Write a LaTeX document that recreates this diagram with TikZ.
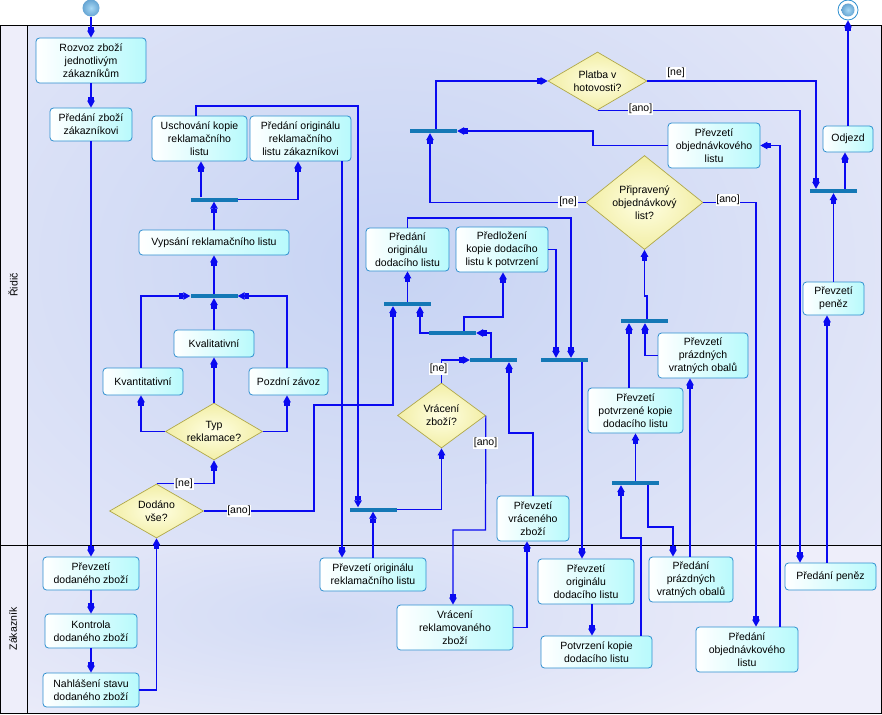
\documentclass[tikz,border=0pt]{standalone}
\usepackage{fontspec}
\setmainfont{Liberation Sans}
\usetikzlibrary{arrows.meta,shapes.geometric}
\definecolor{lav}{HTML}{EEEEFA}
\definecolor{glowA}{HTML}{C6D3F3}
\definecolor{glowB}{HTML}{D2DBF5}
\definecolor{boxb}{HTML}{2E8FCF}
\definecolor{boxc}{HTML}{B8FAFC}
\definecolor{diab}{HTML}{B0A848}
\definecolor{diai}{HTML}{FFFFE4}
\definecolor{diao}{HTML}{F2EEA6}
\definecolor{barc}{HTML}{1478B6}
\definecolor{lc}{HTML}{0A0AF0}
\definecolor{balli}{HTML}{A8D8F4}
\definecolor{ballo}{HTML}{2472B2}
\pgfdeclareradialshading{ballsh}{\pgfpoint{0bp}{0bp}}{color(0bp)=(balli); color(50bp)=(ballo)}
\newcommand\dfont{\fontsize{10.5pt}{13pt}\selectfont}
\begin{document}
\begin{tikzpicture}[x=1pt,y=-1pt,
  box/.style 2 args={draw=boxb, line width=0.8pt, rounded corners=3.5pt, left color=white, right color=boxc, align=center, inner sep=0pt, font=\dfont, minimum width=#1, minimum height=#2},
  dia/.style 2 args={diamond, draw=diab, line width=0.7pt, inner color=diai, outer color=diao, minimum width=#1, minimum height=#2, inner sep=0pt},
  dtext/.style={font=\dfont, align=center, inner sep=0pt},
  bar/.style={fill=barc, minimum width=47pt, minimum height=4pt, inner sep=0pt},
  lbl/.style={fill=white, inner sep=0.8pt, font=\dfont},
  arr/.style={draw=lc, line width=1.2pt, -{Rectangle[length=4pt,width=5.5pt]Triangle[length=7pt,width=7.5pt]}},
]
\useasboundingbox (0,0) rectangle (882,714);
% background
\fill[white] (0,0) rectangle (882,714);
\fill[lav] (0,26) rectangle (881,713);
\begin{scope}
\clip (27,26) rectangle (881,545);
\shade[inner color=glowA, outer color=lav] (390,265) ellipse [x radius=760, y radius=560];
\end{scope}
\begin{scope}
\clip (27,545) rectangle (881,713);
\shade[inner color=glowB, outer color=lav] (330,615) ellipse [x radius=520, y radius=160];
\end{scope}
\draw[black, line width=1pt] (0,26) rectangle (881,713);
\draw[black, line width=1pt] (27,26) -- (27,713);
\draw[black, line width=1pt] (0,545) -- (881,545);
\node[font=\dfont, rotate=90] (laneR) at (13,285) {Řidič};
\node[font=\dfont, rotate=90] (laneZ) at (13,629) {Zákazník};

% start / end
\node[circle, minimum size=17pt, inner sep=0pt, shade, shading=ballsh] (start) at (91,8) {};
\node[circle, draw=boxb, line width=0.8pt, fill=white, minimum size=20pt, inner sep=0pt] (endo) at (848,10) {};
\node[circle, minimum size=13pt, inner sep=0pt, shade, shading=ballsh] (endi) at (848,10) {};

% nodes
\node[box={110pt}{45pt}] (rozvoz) at (91,60.5) {Rozvoz zboží\\jednotlivým\\zákazníkům};
\node[box={82pt}{33pt}] (predzbozi) at (91,124.5) {Předání zboží\\zákazníkovi};
\node[box={95pt}{45pt}] (uschov) at (199.5,138.5) {Uschování kopie\\reklamačního\\listu};
\node[box={101pt}{45pt}] (predorigrekl) at (300.5,138.5) {Předání originálu\\reklamačního\\listu zákazníkovi};
\node[bar] (bar1) at (214,199.5) {};
\node[box={150pt}{25pt}] (vypsani) at (214,242.5) {Vypsání reklamačního listu};
\node[bar] (bar2) at (214,296) {};
\node[box={80pt}{27pt}] (kvalit) at (214,343.5) {Kvalitativní};
\node[box={80pt}{27pt}] (kvantit) at (143,381.5) {Kvantitativní};
\node[box={79pt}{27pt}] (pozdni) at (288.5,381.5) {Pozdní závoz};
\node[dia={97pt}{57pt}] (typ) at (214,431.5) {};
\node[dtext] (typT) at (214,431.5) {Typ\\reklamace?};
\node[dia={94pt}{54pt}] (dodano) at (156.5,511) {};
\node[dtext] (dodanoT) at (156.5,511) {Dodáno\\vše?};
\node[box={96pt}{33pt}] (prevdod) at (91,573.5) {Převzetí\\dodaného zboží};
\node[box={92pt}{34pt}] (kontrola) at (91,631) {Kontrola\\dodaného zboží};
\node[box={96pt}{34pt}] (nahlaseni) at (91,690) {Nahlášení stavu\\dodaného zboží};
\node[bar] (bar3) at (373.5,509.5) {};
\node[box={106pt}{33pt}] (prevorigrekl) at (373,574.5) {Převzetí originálu\\reklamačního listu};
\node[box={116pt}{45pt}] (vracrekl) at (455,627.5) {Vrácení\\reklamovaného\\zboží};
\node[box={72pt}{45pt}] (prevvrac) at (533,518.5) {Převzetí\\vráceného\\zboží};
\node[dia={88pt}{65pt}] (vraceni) at (441.5,415.5) {};
\node[dtext] (vraceniT) at (441.5,415.5) {Vrácení\\zboží?};
\node[box={83pt}{43pt}] (predorigdod) at (407.5,249.5) {Předání\\originálu\\dodacího listu};
\node[box={92pt}{45pt}] (predloz) at (502,249.5) {Předložení\\kopie dodacího\\listu k potvrzení};
\node[bar] (barA) at (407.5,304) {};
\node[bar] (barB) at (452.5,333) {};
\node[bar] (barC) at (493.5,360) {};
\node[bar] (barD) at (564.5,360) {};
\node[bar] (barE) at (433.5,131) {};
\node[dia={99pt}{58pt}] (platba) at (597.5,81) {};
\node[dtext] (platbaT) at (597.5,81) {Platba v\\hotovosti?};
\node[box={92pt}{45pt}] (prevobj) at (714,145.5) {Převzetí\\objednávkového\\listu};
\node[dia={117pt}{94pt}] (pripr) at (644.5,202.5) {};
\node[dtext] (priprT) at (644.5,202.5) {Připravený\\objednávkový\\list?};
\node[box={50pt}{26pt}] (odjezd) at (848,139) {Odjezd};
\node[bar] (barF) at (833.5,191) {};
\node[box={61pt}{33pt}] (prevpenez) at (833.5,298.5) {Převzetí\\peněz};
\node[bar] (barG) at (644.5,321) {};
\node[box={90pt}{45pt}] (prevprazd) at (703,355.5) {Převzetí\\prázdných\\vratných obalů};
\node[box={95pt}{45pt}] (prevpotvr) at (635.5,410.5) {Převzetí\\potvrzené kopie\\dodacího listu};
\node[bar] (barH) at (635.5,483) {};
\node[box={96pt}{45pt}] (prevorigdod) at (586,581.5) {Převzetí\\originálu\\dodacího listu};
\node[box={111pt}{32pt}] (potvrz) at (596.5,652) {Potvrzení kopie\\dodacího listu};
\node[box={84pt}{45pt}] (predprazd) at (691,579.5) {Předání\\prázdných\\vratných obalů};
\node[box={102pt}{45pt}] (predobj) at (747,649.5) {Předání\\objednávkového\\listu};
\node[box={91pt}{27pt}] (predpenez) at (830.5,576.5) {Předání peněz};

% edges
\draw[arr] (start) -- (rozvoz);
\draw[arr] (rozvoz) -- (predzbozi);
\draw[arr] (predzbozi) -- (prevdod);
\draw[arr] (prevdod) -- (kontrola);
\draw[arr] (kontrola) -- (nahlaseni);
\draw[arr] (nahlaseni.east) -| (dodano.south);
\draw[arr] (dodano.north) -| (typ.south);
\draw[arr] (dodano.east) -- (314,511) -- (314,405) -| (barA.south -| 393,0);
\draw[arr] (uschov.north -| 196,0) -- (196,106) -| (bar3.north -| 358,0);
\draw[arr] (predorigrekl.south -| 342,0) -- (prevorigrekl.north -| 342,0);
\draw[arr] (prevorigrekl.north -| 373,0) -- (bar3.south -| 373,0);
\draw[arr] (bar3.east) -| (vraceni.south);
\draw[arr] (vraceni.north) |- (barC.west);
\draw[arr] (vraceni.east) -- (485.5,530) -| (vracrekl.north -| 453,0);
\draw[arr] (vracrekl.east) -| (prevvrac.south -| 527,0);
\draw[arr] (prevvrac.north) -- (533,433) -| (barC.south -| 509,0);
\draw[arr] (barC.north -| 491,0) |- (barB.east);
\draw[arr] (barB.north -| 464,0) -- (464,317) -| (predloz.south -| 503,0);
\draw[arr] (barB.west) -| (barA.south -| 420,0);
\draw[arr] (barA) -- (predorigdod);
\draw[arr] (predorigdod.north) -- (407.5,218) -| (barD.north -| 571,0);
\draw[arr] (predloz.east) -| (barD.north -| 556,0);
\draw[arr] (barD.south -| 582,0) -- (prevorigdod.north -| 582,0);
\draw[arr] (prevorigdod.south -| 592,0) -- (potvrz.north -| 592,0);
\draw[arr] (potvrz.north -| 641,0) -- (641,538) -| (barH.south -| 621,0);
\draw[arr] (barH) -- (prevpotvr);
\draw[arr] (barH.south -| 648,0) -- (648,527) -| (predprazd.north -| 673,0);
\draw[arr] (predprazd.north -| 690,0) -- (prevprazd.south -| 690,0);
\draw[arr] (prevpotvr.north -| 629,0) -- (barG.south -| 629,0);
\draw[arr] (prevprazd.west) -| (barG.south -| 645,0);
\draw[arr] (barG.north -| 647,0) -- (647,296) -- (644.5,296) -- (pripr.south);
\draw[arr] (pripr.west) -| (barE.south -| 430,0);
\draw[arr] (pripr.east) -| (predobj.north -| 756,0);
\draw[arr] (predobj.north -| 780,0) |- (prevobj.east);
\draw[arr] (prevobj.west) -| (593,131) -- (barE.east);
\draw[arr] (barE.north -| 436,0) |- (platba.west);
\draw[arr] (platba.east) -| (barF.north -| 816,0);
\draw[arr] (platba.south) -| (predpenez.north -| 800,0);
\draw[arr] (predpenez.north -| 827,0) -- (prevpenez.south -| 827,0);
\draw[arr] (prevpenez) -- (barF);
\draw[arr] (barF.north -| 845,0) -- (odjezd.south -| 845,0);
\draw[arr] (odjezd) -- (endo);
\draw[arr] (vypsani) -- (bar1);
\draw[arr] (bar1.north -| 201,0) -- (uschov.south -| 201,0);
\draw[arr] (bar1.east) -| (predorigrekl.south -| 298,0);
\draw[arr] (bar2) -- (vypsani);
\draw[arr] (kvalit) -- (bar2);
\draw[arr] (kvantit.north -| 141,0) |- (bar2.west);
\draw[arr] (pozdni.north -| 287,0) |- (bar2.east);
\draw[arr] (typ) -- (kvalit);
\draw[arr] (typ.west) -| (kvantit.south -| 141,0);
\draw[arr] (typ.east) -| (pozdni.south -| 287,0);

% guard labels
\node[lbl] (lne1) at (184,484) {[ne]};
\node[lbl] (lano1) at (239,511) {[ano]};
\node[lbl] (lne2) at (438.5,369) {[ne]};
\node[lbl] (lano2) at (485.5,443) {[ano]};
\node[lbl] (lne3) at (568,202) {[ne]};
\node[lbl] (lano3) at (728,200) {[ano]};
\node[lbl] (lne4) at (676,73) {[ne]};
\node[lbl] (lano4) at (640.5,109) {[ano]};
\end{tikzpicture}
\end{document}
